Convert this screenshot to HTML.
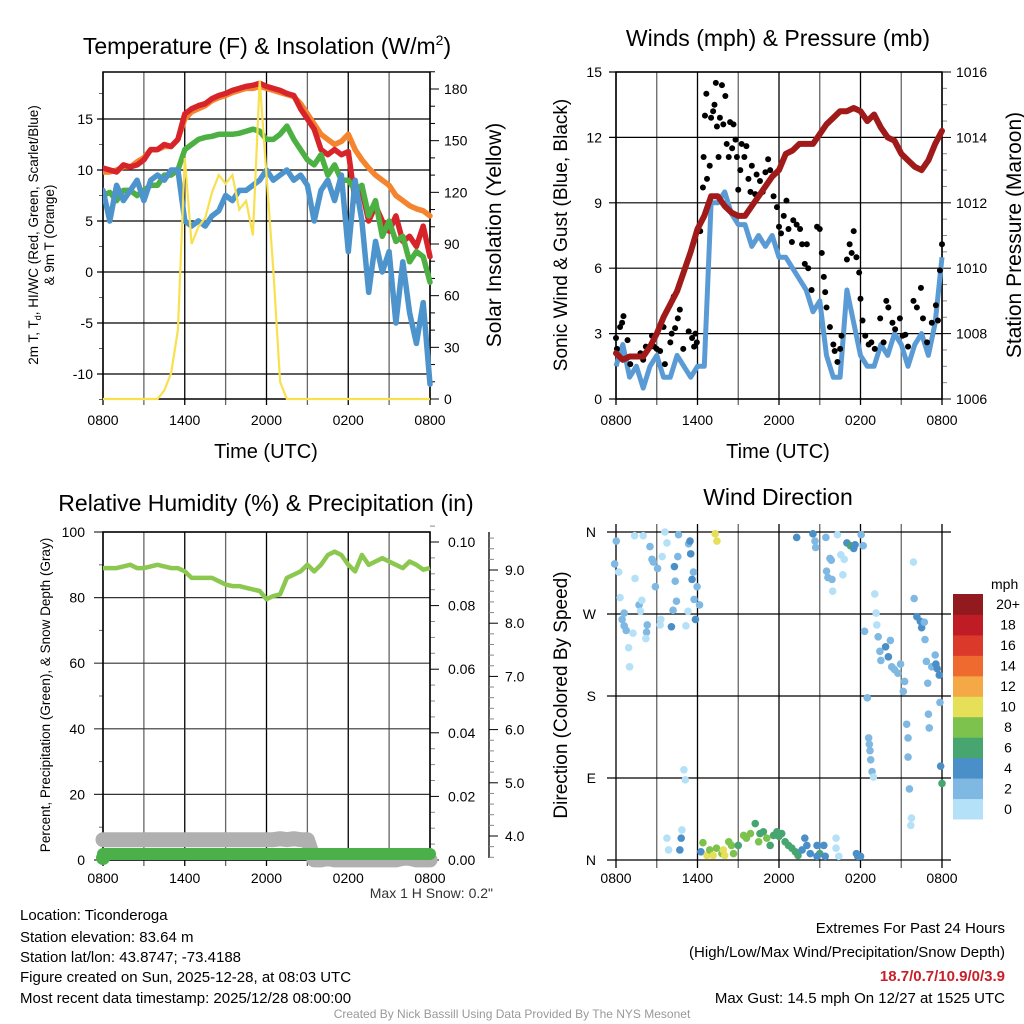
<!DOCTYPE html>
<html><head><meta charset="utf-8"><style>
body{margin:0;background:#fff;}
svg{display:block;font-family:"Liberation Sans",sans-serif;}
</style></head><body>
<svg id="c" width="1024" height="1024" xmlns="http://www.w3.org/2000/svg">
<rect width="1024" height="1024" fill="#fff"/>
<text x="267" y="54" font-size="23" text-anchor="middle">Temperature (F) &amp; Insolation (W/m<tspan dy="-9" font-size="14">2</tspan><tspan dy="9">)</tspan></text>
<text x="778" y="46" font-size="23" text-anchor="middle">Winds (mph) &amp; Pressure (mb)</text>
<text x="266" y="511" font-size="23" text-anchor="middle">Relative Humidity (%) &amp; Precipitation (in)</text>
<text x="778" y="505" font-size="23" text-anchor="middle">Wind Direction</text>

<text x="266" y="458" font-size="20" text-anchor="middle">Time (UTC)</text>
<text x="778" y="458" font-size="20" text-anchor="middle">Time (UTC)</text>
<text transform="translate(38,235) rotate(-90)" font-size="13.5" text-anchor="middle">2m T, T<tspan dy="3" font-size="9">d</tspan><tspan dy="-3">, HI/WC (Red, Green, Scarlet/Blue)</tspan></text>
<text transform="translate(54,235) rotate(-90)" font-size="13.5" text-anchor="middle">&amp; 9m T (Orange)</text>
<text transform="translate(501,235) rotate(-90)" font-size="21" text-anchor="middle">Solar Insolation (Yellow)</text>
<text transform="translate(567,235) rotate(-90)" font-size="19" text-anchor="middle">Sonic Wind &amp; Gust (Blue, Black)</text>
<text transform="translate(1021,235) rotate(-90)" font-size="21" text-anchor="middle">Station Pressure (Maroon)</text>
<text transform="translate(50,695) rotate(-90)" font-size="13.5" text-anchor="middle">Percent, Precipitation (Green), &amp; Snow Depth (Gray)</text>
<text transform="translate(567,695) rotate(-90)" font-size="19" text-anchor="middle">Direction (Colored By Speed)</text>

<text x="493" y="898" font-size="14" text-anchor="end" fill="#333">Max 1 H Snow: 0.2"</text>
<g font-size="15">
<text x="20" y="920">Location: Ticonderoga</text>
<text x="20" y="942">Station elevation: 83.64 m</text>
<text x="20" y="962">Station lat/lon: 43.8747; -73.4188</text>
<text x="20" y="982">Figure created on Sun, 2025-12-28, at 08:03 UTC</text>
<text x="20" y="1003">Most recent data timestamp: 2025/12/28 08:00:00</text>
</g>
<g font-size="15" text-anchor="end">
<text x="1005" y="933">Extremes For Past 24 Hours</text>
<text x="1005" y="957">(High/Low/Max Wind/Precipitation/Snow Depth)</text>
<text x="1005" y="981" fill="#c8202a" font-weight="bold">18.7/0.7/10.9/0/3.9</text>
<text x="1005" y="1003">Max Gust: 14.5 mph On 12/27 at 1525 UTC</text>
</g>
<text x="512" y="1018" font-size="12" text-anchor="middle" fill="#999">Created By Nick Bassill Using Data Provided By The NYS Mesonet</text>
</svg>
<script>
// ---- data (half-hourly, 0800 -> 0800) ----
const timeLabels = ["0800","1400","2000","0200","0800"];
const tempRed = [10.2,10,9.8,10.5,10.3,10.5,11,12,12,12.5,12.3,13,15.5,16,16.3,16.5,17,17.3,17.5,17.8,18,18.2,18.3,18.5,18.2,18,17.8,17.5,17.3,16,15,14,12,11.5,12,11.5,11.8,7,8,5,6.5,5,4,5.5,3,3.5,2.5,4.5,1.5];
const tempOrange = [9.8,9.8,10,10.3,10.3,10.8,11.2,12,12,12.3,12.3,13,15,15.7,16,16.3,16.8,17.1,17.3,17.6,17.8,18,18,18.2,18,17.8,17.6,17.4,17.2,16.5,15.5,14.5,13.5,13,12.5,12.8,13.5,12,11,10.2,9.5,9,8.5,7.5,7,6.5,6.2,6,5.5];
const tempGreen = [7.5,7.8,7,8,8,7.5,8,8.5,8.5,9.5,9.5,10,12,12.5,13,13.2,13.3,13.5,13.5,13.5,13.6,13.8,14,13.8,13,13,13.5,14.3,13,12,11,10.5,11.5,9.5,10.5,9,9,8,8.5,5.5,7,3.5,5,3,3.5,1,2,1.5,-1];
const tempBlue = [8,5,8.5,7,8,9,7,9,9.5,9,10,10,5,4.5,5,4.5,5.5,6,7.5,7,8,8,8.5,9,10,9,9.5,10,9,9.5,8.5,5,8,9,7,9.5,2,9,5,-2,3,0,2,-5,1,-4,-7,-3,-11];
const insolation = [0,0,0,0,0,0,0,0,0,5,15,40,140,90,100,105,120,130,125,130,110,115,95,185,130,75,10,0,0,0,0,0,0,0,0,0,0,0,0,0,0,0,0,0,0,0,0,0,0];
const windSpeed = [1.5,2.5,1,1.5,0.5,1.5,2,1,1,2,1.5,1,1.5,1.5,9,9,9.5,8.5,8,8,7,7.5,7,7.5,6.5,6.5,6,5.5,5,4,4.5,2,1,1,5,3.5,2,1.5,1.5,2.5,2,3,2.5,1.5,2.5,3,2,3.5,6.5];
const pressure = [1007.4,1007.2,1007.3,1007.3,1007.3,1007.6,1008,1008.5,1008.9,1009.3,1009.9,1010.5,1011.2,1011.6,1012.2,1012.2,1011.9,1011.7,1011.6,1011.6,1011.9,1012.2,1012.5,1012.8,1013,1013.5,1013.6,1013.8,1013.8,1013.8,1014.1,1014.4,1014.6,1014.8,1014.8,1014.9,1014.8,1014.5,1014.7,1014.3,1014,1013.9,1013.5,1013.3,1013.1,1013,1013.3,1013.8,1014.2];
const gustHours = [0,0.07,0.3,0.45,0.55,0.85,1.05,1.8,2,2.2,2.65,2.8,3,3.25,3.5,3.6,4,4.1,4.25,4.35,4.55,4.7,4.95,5.35,5.6,5.75,5.85,5.95,6.2,6.4,6.45,6.55,6.65,6.7,6.9,7,7.15,7.25,7.35,7.43,7.55,7.65,7.8,7.9,8.05,8.15,8.3,8.4,8.55,8.65,8.8,8.9,9,9.15,9.25,9.45,9.6,9.75,9.9,10,10.25,10.35,10.6,10.8,11,11.2,11.35,11.6,11.85,12,12.15,12.35,12.55,12.7,12.95,13.05,13.3,13.55,13.7,13.9,14.05,14.15,14.4,14.8,15,15.15,15.3,15.4,15.5,15.75,16,16.1,16.3,16.5,16.6,17,17.2,17.35,17.5,17.7,17.9,18,18.15,18.35,18.6,18.8,19.05,19.45,19.7,19.9,20.05,20.35,20.55,20.9,21.1,21.3,21.5,21.9,22.15,22.45,22.6,22.9,23.25,23.55,23.7,23.85,24];
const gustValues = [2.8,2.3,3.3,3.5,3.8,2.7,1.6,2.1,1.8,2.4,2.9,2.4,2.3,2.2,3.3,1.6,2.6,3,4.7,3.25,3.7,4.1,2.3,3.1,2.8,2.4,3,2.6,7.7,9.7,11.1,13,14,10.1,10.7,12.9,13.2,13.5,14.5,12.5,11.1,12.9,14.4,12.6,13.9,11.7,11.1,12.7,11.5,12.6,11.9,11.1,9.6,10.5,11.7,11.1,11.6,10.1,9.5,10.7,9.4,10.3,10,9.5,10.4,11,10.5,9.3,8.8,7.9,7.6,8.4,9.1,7.8,7.2,8.2,8,7.8,7.1,6.2,7.1,6,5,7.9,7.8,6.7,5.6,4.9,4.2,3.3,2.5,2.2,1.7,2.3,2.9,6.4,7.1,6.7,7.7,6.5,5.8,4.6,3.6,2.9,2.5,2.6,2.3,3.7,2.6,4.5,4.2,3.5,3.2,3.7,2.9,2.95,2.4,4.5,4.2,5.1,3.7,2.6,3.5,4.3,3.6,5.9,7.1];
const humidity = [89,89,89,89.5,90,89,89,89.5,90,89.5,89,89,88,86,86,86,86,85,84,83.5,83.5,83,82.5,82,79.5,80.5,81,86,87,88,90,88,90,93,94,93,90,88,93,90,91,92,91,90,89,91,90,88.5,89];
const precip = [0,0,0,0,0,0,0,0,0,0,0,0,0,0,0,0,0,0,0,0,0,0,0,0,0,0,0,0,0,0,0,0,0,0,0,0,0,0,0,0,0,0,0,0,0,0,0,0,0];
const snowDepth = [3.93,3.93,3.93,3.93,3.93,3.93,3.93,3.93,3.93,3.93,3.93,3.93,3.93,3.93,3.93,3.93,3.93,3.93,3.93,3.93,3.93,3.93,3.93,3.93,3.93,3.93,3.95,3.93,3.95,3.93,3.93,3.55,3.55,3.58,3.55,3.55,3.55,3.55,3.55,3.55,3.55,3.55,3.55,3.55,3.58,3.58,3.55,3.55,3.55];
const dirHours = [0.02,0.2,0.3,-0.1,0.6,0.45,0.6,0.75,1.25,0.93,1.0,1.37,2.0,1.4,1.7,1.8,1.9,2.5,2.65,2.75,2.9,2.3,2.25,2.2,3.06,3.4,3.6,3.75,3.3,3.25,4.08,4.2,4.3,4.36,4.45,4.55,4.6,5.15,5.3,5.35,5.45,5.5,5.6,5.7,5.75,5.85,5.97,6.15,3.75,3.87,4.7,4.8,4.85,5.0,5.1,7.3,7.43,6.4,6.25,6.7,6.9,7.15,7.4,7.8,7.9,8.0,8.3,8.5,8.65,9.0,9.4,9.6,9.9,10.25,10.5,10.6,10.85,11.1,11.35,11.6,11.85,12.0,12.2,12.45,12.7,12.95,13.2,13.4,13.7,13.9,14.05,14.3,14.8,15.0,15.3,15.4,14.8,13.3,14.5,14.65,14.7,15.45,15.75,15.85,15.5,15.6,15.9,15.95,16.3,16.55,16.7,16.8,17.0,17.25,17.5,17.6,18.05,18.2,16.2,16.2,16.4,17.7,17.8,18.0,18.3,18.5,18.6,18.65,18.7,18.75,18.85,18.95,19.05,19.15,19.2,19.3,19.43,19.5,19.85,20.05,20.2,20.3,20.5,20.75,20.95,21.25,21.15,21.4,21.5,21.5,21.6,21.75,21.7,21.9,21.95,22.15,22.4,22.5,22.7,22.75,22.85,22.95,23.0,23.06,23.25,23.5,23.55,23.65,23.8,23.85,23.9,24];
const dirDegrees = [350,316,288,325,271,264,257,252,249,233,212,356,356,309,280,273,285,344,330,327,300,258,250,243,320,333,360,348,264,258,256,274,322,306,284,333,357,257,273,347,350,336,308,316,286,264,300,280,24,11,11,24,33,99,88,358,350,19,9,5,11,5,13,7,11,5,20,16,7,16,27,24,29,40,20,29,31,24,16,27,31,26,29,20,16,13,9,5,11,24,16,7,16,7,16,4,4,354,358,350,343,354,331,329,317,310,308,295,357,335,313,330,348,345,342,346,357,345,24,13,4,7,4,4,251,178,134,127,120,110,97,91,292,271,258,245,229,219,234,223,241,212,209,205,215,196,185,149,134,113,78,46,38,327,287,267,262,255,261,242,218,194,160,145,212,225,215,210,203,173,103,84];
const dirSpeeds = [3,1,1,3,3,3,3,3,1,1,1,1,1,1,3,1,1,3,3,3,3,3,3,1,3,1,1,1,1,1,5,3,5,3,3,3,3,1,1,3,5,5,5,3,3,5,3,3,
1,1,5,5,1,1,1,
11,11,
9,5,11,9,11,9,9,11,11,9,9,9,7,9,9,9,7,9,7,7,9,7,7,7,7,7,7,7,7,7,7,5,5,5,5,5,7,5,5,5,
5,5,3,3,3,3,3,3,3,3,1,1,1,1,1,5,7,5,5,3,3,
1,1,1,5,5,5,
3,3,3,3,3,3,3,1,1,1,1,3,3,3,5,5,3,3,3,3,3,3,3,3,3,3,3,1,1,1,3,5,5,5,3,3,3,3,3,3,3,3,5,5,5,3,5,7];
const speedBins = ["0","2","4","6","8","10","12","14","16","18","20+"];
const binColors = ["#b4e1f7","#7fb8e2","#4a8fc7","#47a56f","#7cc24d","#e6df58","#f4a846","#ee6a2e","#db3a2a","#bf1c25","#921a1e"];

const NS="http://www.w3.org/2000/svg";
const svg=document.getElementById('c');
function el(tag,attrs,parent){const e=document.createElementNS(NS,tag);for(const k in attrs)e.setAttribute(k,attrs[k]);(parent||svg).appendChild(e);return e;}
function txt(s,attrs,parent){const e=el('text',attrs,parent);e.textContent=s;return e;}
function lin(d0,d1,r0,r1){return v=>r0+(v-d0)*(r1-r0)/(d1-d0);}
function pathFrom(vals,xs,ys){return vals.map((v,i)=>(i?'L':'M')+xs(i*0.5).toFixed(1)+','+ys(v).toFixed(1)).join('');}

function timeAxis(g,x0,x1,y0,y1,labelY){
  const xs=lin(0,24,x0,x1);
  for(let h=0;h<=24;h+=3){const x=xs(h);
    const l=el('line',{x1:x,x2:x,y1:y0,y2:y1+6,stroke:(h%6? '#666':'#000'),'stroke-width':1.3},g);
    }
  timeLabels.forEach((s,i)=>{const t=txt(s,{x:xs(i*6),y:labelY,'font-size':14,'text-anchor':'middle'},g);
    });
  return xs;
}

// ================= Panel 1 =================
(function(){
  const g=el('g',{});
  const X0=103,X1=430,Y0=72,Y1=399;
  const ys=lin(0,10,272,170), yr=lin(0,180,399,89);
  const xs=timeAxis(g,X0,X1,Y0,Y1,425);
  for(let v=-10;v<=15;v+=5){const y=ys(v);el('line',{x1:X0-6,x2:X1,y1:y,y2:y,stroke:'#000','stroke-width':1.2},g);
    const t=txt(String(v),{x:X0-10,y:y+5,'font-size':14,'text-anchor':'end'},g);}
  for(let v=-12.5;v<20;v+=2.5){if(v%5)el('line',{x1:X0-4,x2:X0,y1:ys(v),y2:ys(v),stroke:'#666'},g);}
  for(let v=0;v<=190;v+=10){const y=yr(v);el('line',{x1:X1,x2:X1+(v%30?5:9),y1:y,y2:y,stroke:'#000'},g);
    if(v%30===0){const t=txt(String(v),{x:X1+14,y:y+5,'font-size':14},g);}}
  el('rect',{x:X0,y:Y0,width:X1-X0,height:Y1-Y0,fill:'none',stroke:'#000','stroke-width':1.5},g);
  const cp=el('clipPath',{id:'cp1'},g);el('rect',{x:X0,y:Y0-4,width:X1-X0+3,height:Y1-Y0+6},cp);
  const s=el('g',{'clip-path':'url(#cp1)'},g);
  const series=[[tempOrange,'#f5842f','orange-9m-temperature-line'],[tempRed,'#d7242a','red-temperature-line'],[tempGreen,'#4cb043','green-dewpoint-line'],[tempBlue,'#4d93cc','blue-windchill-line']];
  series.forEach(([d,c,n])=>{const p=el('path',{d:pathFrom(d,xs,ys),fill:'none',stroke:c,'stroke-width':5.5,'stroke-linejoin':'round','stroke-linecap':'round'},s);
    });
  const p=el('path',{d:pathFrom(insolation,xs,yr),fill:'none',stroke:'#f9e04f','stroke-width':2.2},s);
  
})();

// ================= Panel 2 =================
(function(){
  const g=el('g',{});
  const X0=616,X1=942,Y0=72,Y1=399;
  const ys=lin(0,15,399,72), yp=lin(1006,1016,399,72);
  const xs=timeAxis(g,X0,X1,Y0,Y1,425);
  for(let v=0;v<=15;v+=3){const y=ys(v);el('line',{x1:X0-7,x2:X1,y1:y,y2:y,stroke:'#000','stroke-width':1.2},g);
    const t=txt(String(v),{x:X0-14,y:y+5,'font-size':14,'text-anchor':'end'},g);}
  for(let v=1006;v<=1016;v+=0.5){const y=yp(v);const major=Math.abs(v%2)<0.01;el('line',{x1:X1,x2:X1+(major?9:5),y1:y,y2:y,stroke:major?'#000':'#888'},g);
    if(major){const t=txt(String(v),{x:X1+14,y:y+5,'font-size':14},g);}}
  el('rect',{x:X0,y:Y0,width:X1-X0,height:Y1-Y0,fill:'none',stroke:'#000','stroke-width':1.5},g);
  const cp=el('clipPath',{id:'cp2'},g);el('rect',{x:X0-3,y:Y0-4,width:X1-X0+6,height:Y1-Y0+6},cp);
  const s=el('g',{'clip-path':'url(#cp2)'},g);
  const w=el('path',{d:pathFrom(windSpeed,xs,ys),fill:'none',stroke:'#5b9bd5','stroke-width':5,'stroke-linejoin':'round'},s);
  
  gustHours.forEach((h,i)=>{const c=el('circle',{cx:xs(h),cy:ys(gustValues[i]),r:3,fill:'#000'},s);
    });
  const p=el('path',{d:pathFrom(pressure,xs,yp),fill:'none',stroke:'#a01a1a','stroke-width':6,'stroke-linejoin':'round','stroke-linecap':'round'},s);
  
})();

// ================= Panel 3 =================
(function(){
  const g=el('g',{});
  const X0=103,X1=430,Y0=532,Y1=860;
  const ys=lin(0,100,860,532), yq=lin(0,0.1,860,542), yn=lin(4,9,836,570);
  const xs=timeAxis(g,X0,X1,Y0,Y1,883);
  for(let v=0;v<=100;v+=20){const y=ys(v);el('line',{x1:X0-9,x2:X1,y1:y,y2:y,stroke:'#333','stroke-width':1.2},g);
    const t=txt(String(v),{x:X0-18,y:y+5,'font-size':14,'text-anchor':'end'},g);}
  for(let v=10;v<100;v+=20){el('line',{x1:X0-4,x2:X0,y1:ys(v),y2:ys(v),stroke:'#666'},g);}
  for(let k=0;k<=21;k++){const v=k*0.005;const y=yq(v);const major=k%4===0;el('line',{x1:X1,x2:X1+(major?9:5),y1:y,y2:y,stroke:major?'#000':'#888'},g);
    if(major){const t=txt(v.toFixed(2),{x:X1+18,y:y+5,'font-size':14},g);}}
  el('line',{x1:489,x2:489,y1:532,y2:858,stroke:'#000','stroke-width':1.3},g);
  for(let v=3.6;v<=9.6;v+=0.2){const y=yn(v);if(y<533||y>858)continue;const major=Math.abs(v-Math.round(v))<0.01;el('line',{x1:489,x2:489+(major?9:5),y1:y,y2:y,stroke:major?'#000':'#888'},g);
    if(major){const t=txt(Math.round(v).toFixed(1),{x:505,y:y+5,'font-size':14},g);}}
  el('rect',{x:X0,y:Y0,width:X1-X0,height:Y1-Y0,fill:'none',stroke:'#000','stroke-width':1.5},g);
  const sn=el('path',{d:pathFrom(snowDepth,xs,yn),fill:'none',stroke:'#b0b0b0','stroke-width':15,'stroke-linejoin':'round','stroke-linecap':'round'},g);
  
  const pr=el('path',{d:pathFrom(precip,xs,v=>yq(v)-6),fill:'none',stroke:'#4bb04a','stroke-width':12,'stroke-linecap':'round'},g);
  
  el('circle',{cx:X0,cy:yq(precip[0])-2,r:7,fill:'#4bb04a'},g);
  const rh=el('path',{d:pathFrom(humidity,xs,ys),fill:'none',stroke:'#8cc84f','stroke-width':4.5,'stroke-linejoin':'round'},g);
  
})();

// ================= Panel 4 =================
(function(){
  const g=el('g',{});
  const X0=616,X1=942;
  const xs=lin(0,24,X0,X1), yd=lin(0,360,860,532);
  for(let h=0;h<=24;h+=3){const x=xs(h);el('line',{x1:x,x2:x,y1:524,y2:868,stroke:h%6?'#666':'#000','stroke-width':1.3},g);}
  timeLabels.forEach((s,i)=>{const t=txt(s,{x:xs(i*6),y:883,'font-size':14,'text-anchor':'middle'},g);});
  ["N","E","S","W","N"].forEach((s,i)=>{const y=yd(i*90);el('line',{x1:607,x2:951,y1:y,y2:y,stroke:'#000','stroke-width':1.2},g);
    const t=txt(s,{x:596,y:y+5,'font-size':14,'text-anchor':'end'},g);});
  dirHours.forEach((h,i)=>{const sp=dirSpeeds[i]===undefined?3:dirSpeeds[i];const b=Math.min(10,Math.floor(sp/2));
    const c=el('circle',{cx:xs(h),cy:yd(dirDegrees[i]),r:3.8,fill:binColors[b]},g);
    });
  const lg=el('g',{},g);
  txt('mph',{x:991,y:589,'font-size':14},lg);
  const bh=(819-594)/11;
  speedBins.forEach((s,i)=>{const y=819-(i+1)*bh;
    const r=el('rect',{x:953,y:y,width:30,height:bh+0.5,fill:binColors[i]},lg);
    
    const t=txt(s,{x:1008,y:y+bh/2+5,'font-size':14,'text-anchor':'middle'},lg);
    });
})();
</script>
</body></html>
